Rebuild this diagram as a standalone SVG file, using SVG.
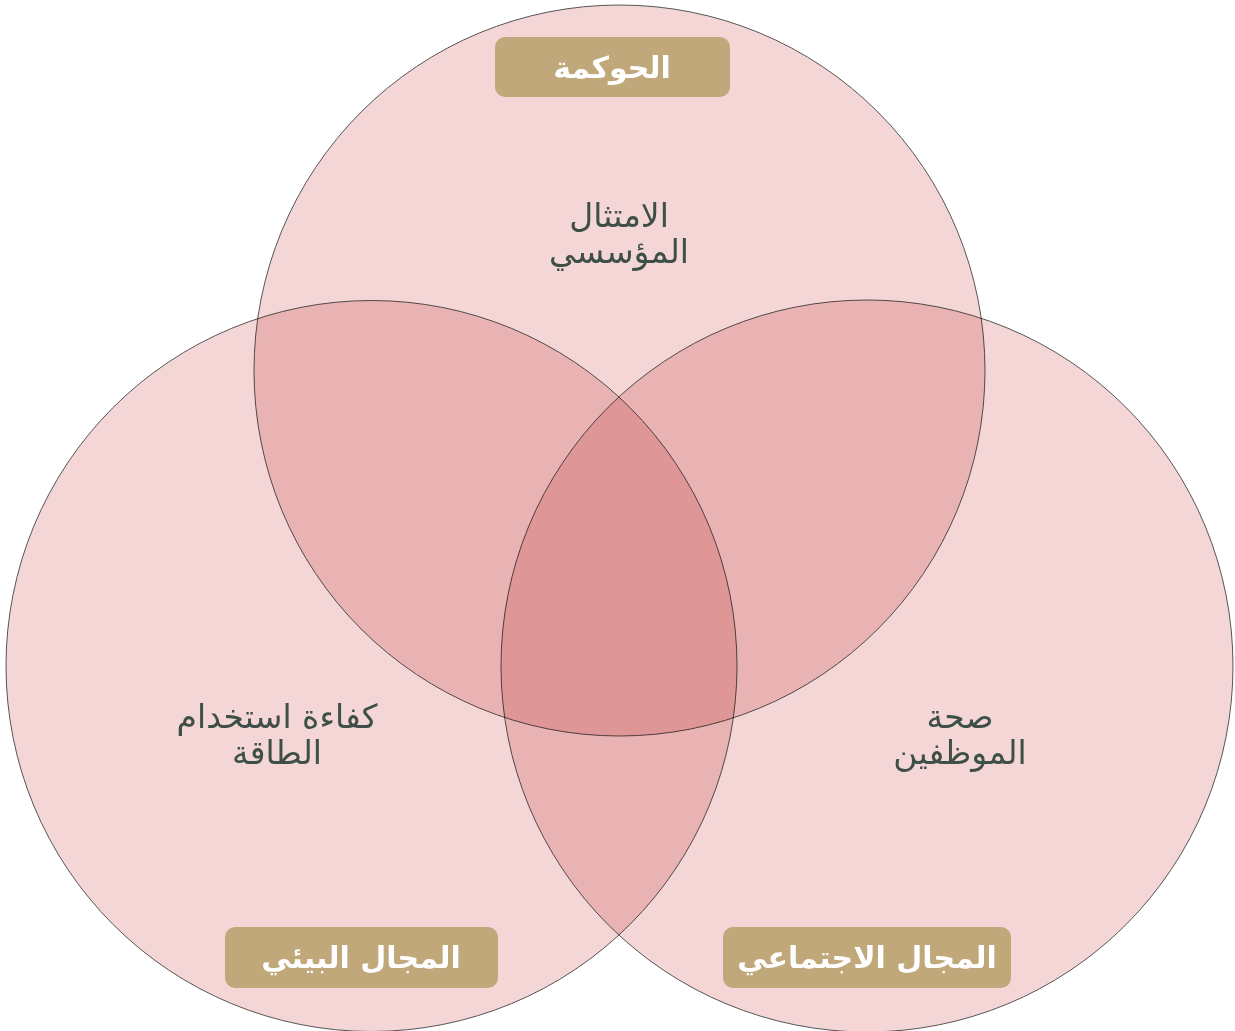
<svg xmlns="http://www.w3.org/2000/svg" width="1235" height="1031" viewBox="0 0 1235 1031">
<style>
.c{fill:#f4d6d6;stroke:#555;stroke-width:1;mix-blend-mode:multiply}
.lb{fill:#c0a87a}
.lt{fill:#fff;font-family:"DejaVu Sans",sans-serif;font-weight:bold;font-size:30px;text-anchor:middle;direction:rtl}
.bt{fill:#3e4f48;font-family:"DejaVu Sans",sans-serif;font-size:33px;text-anchor:middle;direction:rtl}
</style>
<rect width="1235" height="1031" fill="#fff"/>
<g id="circles" style="isolation:isolate">
<circle id="governance" class="c" cx="619.5" cy="370.5" r="365.5"/>
<circle id="environmental" class="c" cx="371.5" cy="666" r="365.5"/>
<circle id="social" class="c" cx="867" cy="666" r="366"/>
</g>
<g id="connectors"/>
<g id="node-governance">
<rect class="lb" x="495" y="37" width="235" height="60" rx="10"/>
<text class="lt" x="612" y="78">الحوكمة</text>
</g>
<g id="node-environmental">
<rect class="lb" x="225" y="927" width="273" height="61" rx="10"/>
<text class="lt" x="361" y="968">المجال البيئي</text>
</g>
<g id="node-social">
<rect class="lb" x="723" y="927" width="288" height="61" rx="10"/>
<text class="lt" x="867" y="968">المجال الاجتماعي</text>
</g>
<g id="text-governance">
<text class="bt" x="619" y="227">الامتثال</text>
<text class="bt" x="619" y="263">المؤسسي</text>
</g>
<g id="text-environmental">
<text class="bt" x="277" y="728">كفاءة استخدام</text>
<text class="bt" x="277" y="764">الطاقة</text>
</g>
<g id="text-social">
<text class="bt" x="960" y="728">صحة</text>
<text class="bt" x="960" y="764">الموظفين</text>
</g>
</svg>
